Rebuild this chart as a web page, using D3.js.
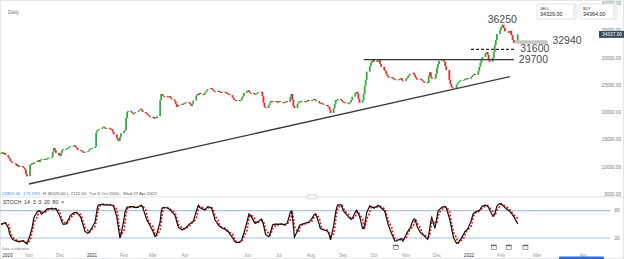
<!DOCTYPE html>
<html>
<head>
<meta charset="utf-8">
<script src="https://cdn.jsdelivr.net/npm/d3@7/dist/d3.min.js"></script>
<style>
html, body { margin: 0; padding: 0; background: #fff; }
svg { display: block; font-family: "Liberation Sans", Arial, sans-serif; }
</style>
</head>
<body>
<svg id="chart" width="624" height="259"></svg>
<script>
// daily candles, one close per trading day starting Mon 5 Oct 2020 (one row = one week)
var startDate = '2020-10-05';
var closes = [
	12600, 12700, 12400, 12600, 12200,
	11800, 11500, 11100, 10900, 10700,
	10600, 10200, 10400, 10000, 10200,
	10000, 9800, 9500, 8700, 8300,
	10400, 10600, 10700, 10600, 10900, // Nov 2020
	11100, 11300, 10900, 11300, 11500,
	11300, 11500, 11500, 11700, 11700,
	11800, 12800, 13500, 13100, 12600,
	12200, 12000, 12600, 13100, 13300, // Dec
	13300, 13500, 13500, 13700, 13900,
	13900, 14000, 13700, 13500, 13100,
	13100, 12900, 12800, 12600, 12800,
	12900, 13100, 13300, 13500, 13500,
	13700, 16300, 16700, 16900, 17000, // Jan 2021
	17200, 17400, 17200, 17000, 17200,
	17100, 17000, 16900, 16500, 16000,
	15300, 14900, 14800, 15500, 16200,
	16600, 16800, 19000, 20100, 20300, // Feb
	20100, 19900, 19700, 19900, 20100,
	20300, 20500, 20700, 20500, 20100,
	19900, 19700, 19600, 19400, 19200,
	19200, 18900, 19100, 19000, 19300, // Mar
	22300, 23400, 23200, 23000, 22800,
	23000, 22800, 23000, 22700, 22400,
	22100, 21600, 21000, 21200, 21400,
	21600, 21500, 21700, 21800, 21900,
	21800, 21600, 21200, 21600, 22200, // Apr
	23100, 23400, 23200, 23600, 23400,
	23200, 23600, 23800, 24100, 24300,
	24500, 24300, 24100, 23900, 23800,
	24000, 23900, 23700, 23800, 23600, // May
	23800, 23600, 23500, 23400, 23200,
	22800, 22500, 22300, 22100, 22300,
	22100, 22300, 22700, 23000, 23600,
	23900, 24100, 23800, 23600, 23600, // Jun
	23400, 23400, 23500, 23600, 23800,
	23800, 23000, 21800, 21000, 20800,
	21400, 21700, 22100, 22100, 21900,
	22100, 21900, 21900, 22100, 21900,
	21900, 21800, 21900, 22100, 21900, // Jul
	22900, 23400, 22300, 21200, 20800,
	21600, 21900, 22100, 21900, 22100,
	22100, 21900, 22100, 22300, 22100,
	22300, 22400, 22500, 22300, 22100, // Aug
	21800, 21600, 21800, 21600, 21400,
	21400, 21200, 21000, 20500, 19900,
	20800, 21600, 22300, 22300, 22500,
	22300, 22100, 21900, 21900, 21800,
	21700, 21700, 21900, 22300, 22900, // Sep
	23600, 23800, 23400, 22500, 21800,
	22300, 23400, 24900, 26000, 27500,
	28500, 29100, 29500, 29600, 29300,
	29500, 29300, 29600, 28900, 28400, // Oct
	27800, 27600, 27000, 26700, 26400,
	26500, 26300, 26200, 26000, 26100,
	26000, 26200, 26300, 25900, 25800,
	26200, 26300, 26700, 26900, 27100, // Nov
	27300, 26900, 26500, 26200, 26000,
	26200, 26000, 25800, 25600, 25600,
	25400, 26700, 27400, 26500, 26200,
	26300, 27100, 28200, 28900, 29500,
	29800, 29600, 29300, 28500, 27800, // Dec
	26000, 25200, 24700, 24500, 24500,
	25100, 25400, 25600, 25800, 26000,
	26000, 26200, 26200, 26300, 26200,
	26500, 26700, 26900, 27100, 26900, // Jan 2022
	27600, 28400, 29100, 29600, 30200,
	30900, 31100, 30600, 29600, 29300,
	30000, 31100, 32400, 33300, 34400,
	35100, 35700, 36100, 35500, 34900,
	34600, 35000, 34200, 33300, 32800, // Feb
	34337
];
var firstOpen = 12500;

// STOCH 14 3 3, %K read per trading day
var stochK = [
	50, 51, 52, 53, 54,
	42, 31, 25, 21, 17,
	14, 13, 13, 12, 12,
	14, 13, 10, 9, 7,
	26, 34, 42, 56, 66,
	78, 79, 80, 78, 72,
	78, 80, 83, 84, 84,
	85, 84, 84, 84, 85,
	72, 67, 61, 55, 50,
	51, 56, 60, 64, 69,
	75, 76, 76, 75, 74,
	66, 59, 51, 44, 35,
	30, 33, 36, 39, 43,
	55, 70, 84, 92, 93,
	94, 94, 93, 93, 93,
	93, 92, 92, 92, 89,
	67, 50, 36, 20, 26,
	62, 78, 83, 88, 88,
	89, 89, 88, 88, 87,
	88, 90, 91, 92, 88,
	67, 60, 56, 52, 48,
	35, 28, 23, 25, 31,
	56, 78, 86, 87, 87,
	86, 85, 83, 81, 78,
	71, 65, 56, 48, 43,
	38, 39, 40, 41, 43,
	50, 52, 53, 55, 56,
	79, 86, 92, 89, 86,
	83, 82, 83, 86, 89,
	87, 84, 77, 69, 60,
	50, 47, 45, 43, 42,
	39, 37, 35, 34, 30,
	21, 17, 13, 11, 10,
	11, 13, 16, 24, 30,
	55, 64, 73, 71, 68,
	55, 52, 53, 55, 56,
	62, 57, 49, 39, 28,
	23, 26, 34, 42, 49,
	51, 50, 49, 50, 51,
	50, 49, 49, 51, 52,
	77, 79, 68, 45, 22,
	36, 42, 48, 49, 50,
	52, 53, 54, 54, 55,
	63, 67, 71, 73, 71,
	50, 41, 40, 39, 38,
	36, 35, 31, 24, 16,
	48, 63, 78, 87, 93,
	93, 89, 82, 78, 75,
	67, 65, 63, 61, 63,
	77, 81, 77, 73, 68,
	41, 41, 48, 62, 76,
	91, 89, 88, 87, 86,
	90, 92, 90, 88, 86,
	80, 75, 65, 56, 48,
	30, 25, 20, 14, 13,
	16, 17, 18, 18, 13,
	27, 32, 35, 39, 42,
	60, 62, 60, 51, 44,
	32, 30, 28, 26, 24,
	17, 26, 42, 56, 65,
	41, 52, 66, 79, 82,
	88, 88, 89, 89, 86,
	64, 54, 43, 32, 21,
	8, 9, 11, 14, 17,
	29, 34, 36, 38, 41,
	57, 65, 73, 75, 77,
	80, 81, 83, 88, 90,
	92, 91, 90, 87, 82,
	68, 68, 73, 82, 90,
	96, 95, 93, 90, 87,
	80, 78, 74, 71, 67,
	51
];
var stochBands = [80, 20];

var priceTicks = [5000, 10000, 15000, 20000, 25000, 30000, 35000, 40000];
var tickDates = ['2020-10-01', '2020-11-01', '2020-12-01', '2021-01-01', '2021-02-01', '2021-03-01', '2021-04-01',
	'2021-06-01', '2021-07-01', '2021-08-01', '2021-09-01', '2021-10-01', '2021-11-01', '2021-12-01',
	'2022-01-01', '2022-02-01', '2022-03-01', '2022-04-01'];
var tickLabels = ['2020', 'Nov', 'Dec', '2021', 'Feb', 'Mar', 'Apr', 'Jun', 'Jul', 'Aug', 'Sep', 'Oct', 'Nov', 'Dec',
	'2022', 'Feb', 'Mar', 'Apr'];
var eventDates = ['2021-10-22', '2022-01-25', '2022-02-07', '2022-02-20'];

// drawn annotations
var trendFrom = ['2020-11-01', 6890];
var trendTo = ['2022-02-08', 26580];
var levelPrices = [29700, 31600, 32940];
var levelFrom = ['2021-09-21', '2022-01-03', '2022-02-12'];
var levelTo = ['2022-02-11', '2022-02-12', '2022-03-08'];
var levelKinds = ['solid', 'dashed', 'bar'];
var peakLabel = ['2022-02-02', 36250];

var sellPrice = '34329.00', buyPrice = '34364.00', lastPrice = 34337;
var infoValues = ['21853.00', '175.19%', 'H 36325.00', 'L 7122.00', 'Tue 6 Oct 2020 - Wed 27 Apr 2022'];

var parseDate = d3.timeParse('%Y-%m-%d');
var green = '#2fae3c', red = '#e8232b';

function tradingDays(start, n) {
	var out = [], d = parseDate(start);
	while (out.length < n) {
		if (d.getDay() !== 0 && d.getDay() !== 6) out.push(d);
		d = d3.timeDay.offset(d, 1);
	}
	return out;
}

var dates = tradingDays(startDate, closes.length);
var candles = closes.map(function(c, i) {
	var o = i === 0 ? firstOpen : closes[i - 1];
	return { date: dates[i], open: o, close: c };
});

// %D = 3-period average of %K
var stoch = stochK.map(function(k, i) {
	var win = stochK.slice(Math.max(0, i - 2), i + 1);
	return { date: dates[i], k: k, d: d3.mean(win) };
});

var svg = d3.select('#chart');

// time axis stretches a little after the last candle, like the platform does
var x = d3.scaleTime()
	.domain([parseDate('2020-11-01'), parseDate('2022-02-01'), parseDate('2022-03-01'), parseDate('2022-04-01')])
	.range([29, 501, 537, 583]);
var y = d3.scaleLinear().domain([5000, 40000]).range([194.3, 3.5]);
var ys = d3.scaleLinear().domain([0, 100]).range([247.1, 201.6]);

// frame
svg.append('rect').attr('x', 0.5).attr('y', 0.5).attr('width', 623).attr('height', 258)
	.attr('fill', 'none').attr('stroke', '#e4e7ea');
svg.append('line').attr('x1', 0).attr('x2', 624).attr('y1', 197).attr('y2', 197)
	.attr('stroke', '#dfe3e6').attr('stroke-width', 1.2);

svg.append('text').attr('x', 8).attr('y', 14).attr('font-size', 5).attr('fill', '#777').text('Daily');

// price labels
svg.append('g').selectAll('text')
	.data(priceTicks)
	.enter()
	.append('text')
	.attr('x', 621)
	.attr('y', function(d) { return y(d); })
	.attr('dy', '0.35em')
	.attr('text-anchor', 'end')
	.attr('font-size', 4.6)
	.attr('fill', '#777')
	.text(d3.format('.2f'));

// trendline
svg.append('line')
	.attr('x1', x(parseDate(trendFrom[0]))).attr('y1', y(trendFrom[1]))
	.attr('x2', x(parseDate(trendTo[0]))).attr('y2', y(trendTo[1]))
	.attr('stroke', '#3a3a3a').attr('stroke-width', 1.3);

// candles
var bw = 1.8;
svg.append('g').selectAll('rect')
	.data(candles)
	.enter()
	.append('rect')
	.attr('x', function(d) { return x(d.date) - bw / 2; })
	.attr('width', bw)
	.attr('y', function(d) { return y(Math.max(d.open, d.close)); })
	.attr('height', function(d) { return Math.max(1, Math.abs(y(d.open) - y(d.close))); })
	.attr('fill', function(d) { return d.close >= d.open ? green : red; });

// levels
levelPrices.forEach(function(p, i) {
	var x1 = x(parseDate(levelFrom[i])), x2 = x(parseDate(levelTo[i]));
	var l = svg.append('line').attr('x1', x1).attr('x2', x2).attr('y1', y(p)).attr('y2', y(p));
	if (levelKinds[i] === 'solid') l.attr('stroke', '#333').attr('stroke-width', 1.3);
	if (levelKinds[i] === 'dashed') l.attr('stroke', '#222').attr('stroke-width', 1.2).attr('stroke-dasharray', '3,2');
	if (levelKinds[i] === 'bar') l.attr('stroke', '#c4c4c4').attr('stroke-width', 3.5);
	svg.append('text')
		.attr('x', x2 + 5).attr('y', y(p) - (levelKinds[i] === 'solid' ? 0 : 1.4)).attr('dy', '0.36em')
		.attr('font-size', 10.5).attr('fill', '#4a4a4a')
		.text(p);
});
svg.append('text')
	.attr('x', x(parseDate(peakLabel[0]))).attr('y', y(peakLabel[1]) - 1)
	.attr('text-anchor', 'middle').attr('font-size', 10.5).attr('fill', '#4a4a4a')
	.text(peakLabel[1]);

// sell / buy boxes
[['SELL', sellPrice, 537, 40], ['BUY', buyPrice, 580, 37]].forEach(function(b) {
	var g = svg.append('g').attr('transform', 'translate(' + b[2] + ',4)');
	g.append('rect').attr('width', b[3]).attr('height', 15).attr('rx', 1)
		.attr('fill', '#fff').attr('stroke', '#d9dde1').attr('stroke-width', 0.8);
	g.append('rect').attr('x', b[3] - 4).attr('y', 0.5).attr('width', 3.5).attr('height', 14).attr('fill', '#eceff2');
	g.append('text').attr('x', 3).attr('y', 5.5).attr('font-size', 3.8).attr('fill', '#333').text(b[0]);
	g.append('text').attr('x', 3).attr('y', 12.3).attr('font-size', 5.4).attr('fill', '#222').text(b[1]);
});

// last price tag
svg.append('rect').attr('x', 599).attr('y', y(lastPrice) - 3.5).attr('width', 25).attr('height', 7).attr('fill', '#3a4a5e');
svg.append('text').attr('x', 622).attr('y', y(lastPrice)).attr('dy', '0.35em').attr('text-anchor', 'end')
	.attr('font-size', 4.8).attr('fill', '#fff').text(d3.format('.2f')(lastPrice));

// info row
var infoX = [2, 23, 43, 67, 89];
infoValues.forEach(function(t, i) {
	svg.append('text').attr('x', infoX[i]).attr('y', 194.5).attr('font-size', 4.4)
		.attr('fill', i < 2 ? '#3b7dd8' : '#555').text(t);
});

// panel handle
svg.append('rect').attr('x', 307).attr('y', 194.8).attr('width', 10).attr('height', 4).attr('rx', 2)
	.attr('fill', '#fff').attr('stroke', '#b8bcc0').attr('stroke-width', 0.6);

// stochastic panel
svg.append('text').attr('x', 3).attr('y', 204.3).attr('font-size', 5.3).attr('fill', '#333')
	.attr('word-spacing', 1.2).text('STOCH 14 3 3 20 80 \u00d7');

svg.append('g').selectAll('line')
	.data(stochBands)
	.enter()
	.append('line')
	.attr('x1', 0).attr('x2', 610)
	.attr('y1', function(d) { return ys(d); }).attr('y2', function(d) { return ys(d); })
	.attr('stroke', '#a9c3da').attr('stroke-width', 1.2);
svg.append('g').selectAll('text')
	.data(stochBands)
	.enter()
	.append('text')
	.attr('x', 617).attr('y', function(d) { return ys(d); }).attr('dy', '0.35em')
	.attr('text-anchor', 'middle').attr('font-size', 4.6).attr('fill', '#777')
	.text(function(d) { return d; });

svg.append('path')
	.datum(stoch)
	.attr('fill', 'none').attr('stroke', red).attr('stroke-width', 1.8).attr('stroke-dasharray', '2,1.6')
	.attr('d', d3.line().x(function(d) { return x(d.date); }).y(function(d) { return ys(d.d); }));
svg.append('path')
	.datum(stoch)
	.attr('fill', 'none').attr('stroke', '#111').attr('stroke-width', 1.2)
	.attr('d', d3.line().x(function(d) { return x(d.date); }).y(function(d) { return ys(d.k); }));

// event markers
var ev = svg.append('g').selectAll('g')
	.data(eventDates)
	.enter()
	.append('g')
	.attr('transform', function(d) { return 'translate(' + (x(parseDate(d)) - 2.5) + ',245)'; });
ev.append('rect').attr('width', 5).attr('height', 4.5).attr('fill', '#fff').attr('stroke', '#666').attr('stroke-width', 0.6);
ev.append('rect').attr('width', 5).attr('height', 1.2).attr('fill', '#666');

svg.append('text').attr('x', 2).attr('y', 250.3).attr('font-size', 3.6).attr('fill', '#777').text('Data is indicative');

// time axis labels
svg.append('g').selectAll('text')
	.data(tickDates)
	.enter()
	.append('text')
	.attr('x', function(d, i) { return i === 0 ? Math.max(x(parseDate(d)), 2.5) : x(parseDate(d)); })
	.attr('y', 256.8)
	.attr('text-anchor', function(d, i) { return i === 0 ? 'start' : 'middle'; })
	.attr('font-size', 4.6)
	.attr('fill', function(d, i) { return /^\d+$/.test(tickLabels[i]) ? '#333' : '#999'; })
	.text(function(d, i) { return tickLabels[i]; });

// scroll bar
svg.append('rect').attr('x', 559).attr('y', 256.5).attr('width', 45).attr('height', 3).attr('rx', 1).attr('fill', '#2f6fd6');
</script>
</body>
</html>
